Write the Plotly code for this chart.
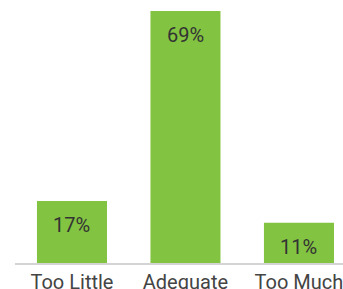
import plotly.graph_objects as go

categories = ["Too Little", "Adequate", "Too Much"]
values = [17, 69, 11]
labels = ["17%", "69%", "11%"]

bar_color = "#82C341"

fig = go.Figure()
fig.add_trace(go.Bar(x=categories, y=values, marker_color=bar_color,
                     marker_line_width=0, hoverinfo="skip"))

for c, v, t in zip(categories, values, labels):
    fig.add_annotation(x=c, y=v, text=t, showarrow=False, yanchor="top",
                       yshift=-10, font=dict(family="Roboto", size=20, color="#333333"))

fig.update_layout(
    width=343, height=289,
    margin=dict(l=15, r=0, t=0, b=26),
    paper_bgcolor="white", plot_bgcolor="white",
    bargap=0.383,
    showlegend=False,
    font=dict(family="Roboto", size=20, color="#444444"),
    xaxis=dict(range=[-0.502, 2.388], showline=True, linecolor="#d4d4d4", linewidth=2,
               showgrid=False, zeroline=False, ticks="",
               automargin=False, tickfont=dict(size=20, color="#444444")),
    yaxis=dict(range=[0, 72], visible=False, showgrid=False, zeroline=False,
               automargin=False),
)

fig.write_html("out.html", config={"displayModeBar": False},
               post_script="document.body.style.margin='0';document.body.style.overflow='hidden';")
